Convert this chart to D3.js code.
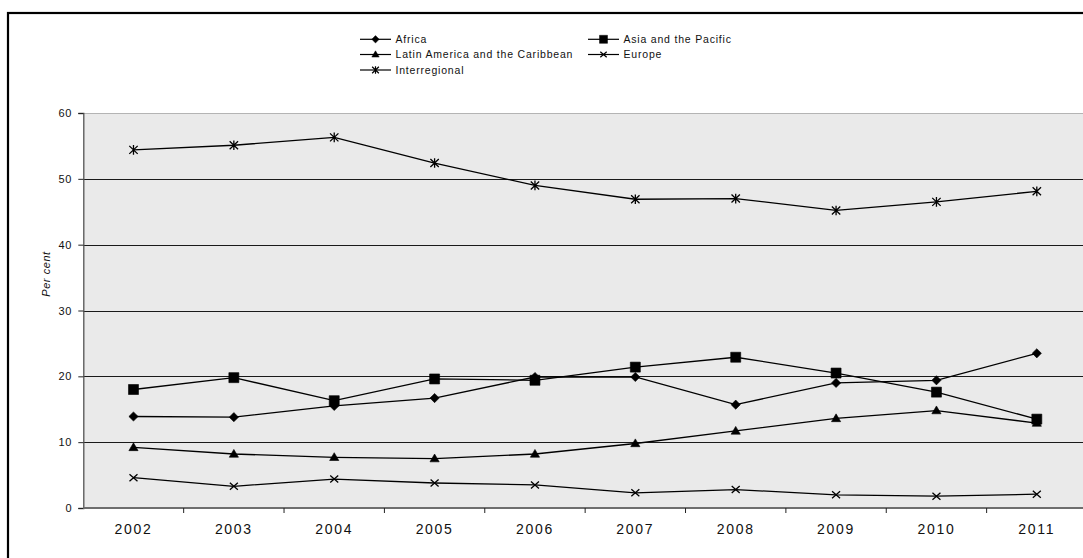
<!DOCTYPE html>
<html>
<head>
<meta charset="utf-8">
<script src="https://cdn.jsdelivr.net/npm/d3@7"></script>
<style>
  html, body { margin: 0; padding: 0; background: #ffffff; }
  svg { display: block; font-family: "Liberation Sans", Arial, sans-serif; }
</style>
</head>
<body>
<svg id="chart" width="1083" height="558"></svg>
<script>
// Share of expenditure by region, 2002-2011 (per cent)
const years = ["2002", "2003", "2004", "2005", "2006", "2007", "2008", "2009", "2010", "2011"];
const africa = [13.9, 13.8, 15.5, 16.7, 19.9, 19.9, 15.7, 19.0, 19.4, 23.5];
const asiaPacific = [18.0, 19.8, 16.3, 19.6, 19.4, 21.4, 22.9, 20.5, 17.6, 13.5];
const latinAmerica = [9.2, 8.2, 7.7, 7.5, 8.2, 9.8, 11.7, 13.6, 14.8, 12.9];
const europe = [4.6, 3.3, 4.4, 3.8, 3.5, 2.3, 2.8, 2.0, 1.8, 2.1];
const interregional = [54.4, 55.1, 56.3, 52.4, 49.0, 46.9, 47.0, 45.2, 46.5, 48.1];
const yTicks = [0, 10, 20, 30, 40, 50, 60];

const series = [
  { name: "Africa", values: africa, marker: "diamond" },
  { name: "Asia and the Pacific", values: asiaPacific, marker: "square" },
  { name: "Latin America and the Caribbean", values: latinAmerica, marker: "triangle" },
  { name: "Europe", values: europe, marker: "cross" },
  { name: "Interregional", values: interregional, marker: "asterisk" }
];

const svg = d3.select("#chart");

// Outer frame (runs past the right and bottom edges of the view)
svg.append("rect")
  .attr("x", 8).attr("y", 13)
  .attr("width", 1200).attr("height", 700)
  .attr("fill", "none").attr("stroke", "#000").attr("stroke-width", 2.2);

const plot = { left: 83.3, right: 1087, top: 113, bottom: 508 };

const x = d3.scaleBand().domain(years).range([plot.left, plot.right]).padding(0);
const y = d3.scaleLinear().domain([0, 60]).range([plot.bottom, plot.top]);

// Plot area background
svg.append("rect")
  .attr("x", plot.left).attr("y", plot.top)
  .attr("width", plot.right - plot.left).attr("height", plot.bottom - plot.top)
  .attr("fill", "#eaeaea");

// Horizontal gridlines
svg.append("g").selectAll("line")
  .data(yTicks.filter(t => t > 0))
  .join("line")
  .attr("x1", plot.left).attr("x2", plot.right)
  .attr("y1", d => Math.round(y(d)) + 0.5).attr("y2", d => Math.round(y(d)) + 0.5)
  .attr("stroke", d => d === 60 ? "#b4b4b4" : "#1a1a1a")
  .attr("stroke-width", 1);

// Y axis
const yAxis = svg.append("g")
  .attr("transform", `translate(${plot.left},0)`)
  .call(d3.axisLeft(y).tickValues(yTicks).tickSize(5).tickPadding(6).tickFormat(d3.format("d")));
yAxis.select(".domain").attr("stroke", "#555").attr("stroke-width", 1.3);
yAxis.selectAll(".tick line").attr("stroke", "#222");
yAxis.selectAll(".tick text")
  .attr("font-size", 11).attr("fill", "#111")
  .attr("font-family", "'Liberation Sans', Arial, sans-serif")
  .attr("letter-spacing", 0.8);

// X axis
const xAxis = svg.append("g")
  .attr("transform", `translate(0,${plot.bottom})`)
  .call(d3.axisBottom(x).tickSize(0).tickPadding(16));
xAxis.select(".domain").remove();
xAxis.selectAll(".tick text")
  .attr("font-size", 14).attr("fill", "#111")
  .attr("font-family", "'Liberation Sans', Arial, sans-serif")
  .attr("letter-spacing", 1.7);
svg.append("line")
  .attr("x1", plot.left).attr("x2", plot.right)
  .attr("y1", plot.bottom).attr("y2", plot.bottom)
  .attr("stroke", "#6e6e6e").attr("stroke-width", 2);
// Boundary ticks between categories
svg.append("g").selectAll("line")
  .data(years.slice(1))
  .join("line")
  .attr("x1", d => x(d)).attr("x2", d => x(d))
  .attr("y1", plot.bottom).attr("y2", plot.bottom + 5)
  .attr("stroke", "#222").attr("stroke-width", 1);

// Y axis title
svg.append("text")
  .attr("transform", `translate(50,274) rotate(-90)`)
  .attr("text-anchor", "middle")
  .attr("font-size", 11).attr("font-style", "italic")
  .attr("letter-spacing", 0.55)
  .attr("fill", "#111")
  .text("Per cent");

// Marker shapes
function markerPath(type) {
  switch (type) {
    case "diamond": return "M0,-4.6L4.6,0L0,4.6L-4.6,0Z";
    case "square": return "M-5,-5H5V5H-5Z";
    case "triangle": return "M0,-4.6L4.6,3.2L-4.6,3.2Z";
    case "cross": return "M-4,-3.5L4,3.5M-4,3.5L4,-3.5";
    case "asterisk": return "M-4.2,-4L4.2,4M-4.2,4L4.2,-4M0,-4.8V4.8";
  }
}
const isStroke = t => t === "cross" || t === "asterisk";

const line = d3.line()
  .x((d, i) => x(years[i]) + x.bandwidth() / 2)
  .y(d => y(d));

const seriesG = svg.append("g");
series.forEach(s => {
  const g = seriesG.append("g");
  g.append("path")
    .attr("d", line(s.values))
    .attr("fill", "none").attr("stroke", "#000").attr("stroke-width", 1.3);
  g.selectAll("path.m")
    .data(s.values)
    .join("path")
    .attr("class", "m")
    .attr("transform", (d, i) => `translate(${x(years[i]) + x.bandwidth() / 2},${y(d)})`)
    .attr("d", markerPath(s.marker))
    .attr("fill", isStroke(s.marker) ? "none" : "#000")
    .attr("stroke", "#000")
    .attr("stroke-width", isStroke(s.marker) ? 1.3 : 0.6);
});

// Legend
const legendItems = [
  { s: series[0], x: 360, y: 39.3 },
  { s: series[1], x: 588, y: 39.3 },
  { s: series[2], x: 360, y: 54.5 },
  { s: series[3], x: 588, y: 54.5 },
  { s: series[4], x: 360, y: 70 }
];
const legend = svg.append("g");
legendItems.forEach(it => {
  const g = legend.append("g").attr("transform", `translate(${it.x},${it.y})`);
  g.append("line").attr("x1", 0).attr("x2", 31).attr("y1", 0).attr("y2", 0)
    .attr("stroke", "#000").attr("stroke-width", 1.2);
  g.append("path")
    .attr("transform", "translate(15.5,0) scale(0.8)")
    .attr("d", markerPath(it.s.marker))
    .attr("fill", isStroke(it.s.marker) ? "none" : "#000")
    .attr("stroke", "#000")
    .attr("stroke-width", isStroke(it.s.marker) ? 1.5 : 0.6);
  g.append("text")
    .attr("x", 35.5).attr("y", 3.8)
    .attr("font-size", 10.5).attr("letter-spacing", 0.8)
    .attr("fill", "#111")
    .text(it.s.name);
});
</script>
</body>
</html>
